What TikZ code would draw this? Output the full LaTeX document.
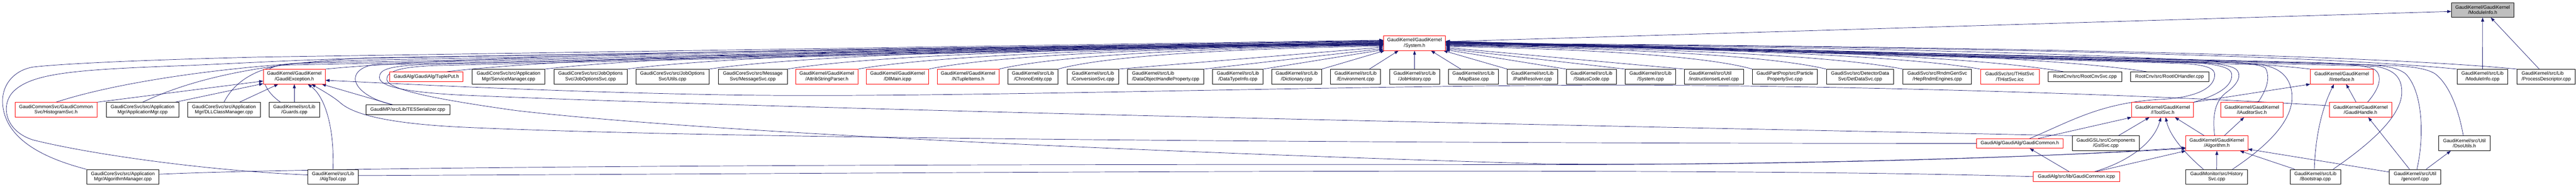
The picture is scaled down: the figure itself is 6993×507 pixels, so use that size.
\documentclass[tikz,border=0pt]{standalone}
\usepackage{fontspec}
\setmainfont{Liberation Sans}
\usetikzlibrary{arrows.meta}
\definecolor{navy}{HTML}{191970}
\definecolor{gfill}{HTML}{BFBFBF}
\pgfdeclarelayer{bg}
\pgfsetlayers{bg,main}
\newcommand\gnode[6]{%
  \pgfmathsetmacro\gcx{(#3+#4)/2}%
  \pgfmathsetmacro\gww{#4-#3}%
  \node[#1, minimum width=\gww pt] (#2) at (\gcx,#5) {#6};}
\tikzset{
  bx/.style={draw=black, fill=white, line width=1.1pt, minimum height=40pt, inner sep=0pt, align=center, font=\fontsize{13}{15}\selectfont},
  rbx/.style={bx, draw=red},
  sbx/.style={bx, minimum height=26pt},
  rsbx/.style={rbx, minimum height=26pt},
  lbx/.style={bx, align=left},
  gybx/.style={bx, fill=gfill},
  conn/.style={draw=navy, line width=1pt, -{Triangle[length=11pt,width=8pt]}},
  conn0/.style={draw=navy, line width=1pt},
}
\begin{document}
\begin{tikzpicture}[x=1pt,y=-1pt]
\begin{pgfonlayer}{bg}
\fill[white] (0,0) rectangle (6993,507);
\end{pgfonlayer}
\useasboundingbox (0,0) rectangle (6993,507);

% row 0 and 1
\gnode{gybx}{mih}{6655}{6824}{27}{GaudiKernel/GaudiKernel\\/ModuleInfo.h}
\gnode{rbx}{sysh}{3756}{3924}{117}{GaudiKernel/GaudiKernel\\/System.h}

% row 2
\gnode{rbx}{gexc}{715}{883}{208}{GaudiKernel/GaudiKernel\\/GaudiException.h}
\gnode{rsbx}{tupleput}{1058}{1257}{208}{GaudiAlg/GaudiAlg/TuplePut.h}
\gnode{bx}{svcmgr}{1282}{1479}{208}{GaudiCoreSvc/src/Application\\Mgr/ServiceManager.cpp}
\gnode{bx}{josvc}{1504}{1702}{208}{GaudiCoreSvc/src/JobOptions\\Svc/JobOptionsSvc.cpp}
\gnode{bx}{joutils}{1726}{1925}{208}{GaudiCoreSvc/src/JobOptions\\Svc/Utils.cpp}
\gnode{bx}{msgsvc}{1950}{2137}{208}{GaudiCoreSvc/src/Message\\Svc/MessageSvc.cpp}
\gnode{rbx}{attrib}{2160}{2329}{208}{GaudiKernel/GaudiKernel\\/AttribStringParser.h}
\gnode{rbx}{dllmain}{2352}{2521}{208}{GaudiKernel/GaudiKernel\\/DllMain.icpp}
\gnode{rbx}{ntuple}{2544}{2712}{208}{GaudiKernel/GaudiKernel\\/NTupleItems.h}
\gnode{bx}{chrono}{2736}{2872}{208}{GaudiKernel/src/Lib\\/ChronoEntity.cpp}
\gnode{bx}{convsvc}{2897}{3037}{208}{GaudiKernel/src/Lib\\/ConversionSvc.cpp}
\gnode{lbx}{dohp}{3061}{3268}{208}{GaudiKernel/src/Lib\\/DataObjectHandleProperty.cpp}
\gnode{bx}{dtinfo}{3292}{3429}{208}{GaudiKernel/src/Lib\\/DataTypeInfo.cpp}
\gnode{bx}{dict}{3452}{3588}{208}{GaudiKernel/src/Lib\\/Dictionary.cpp}
\gnode{bx}{env}{3612}{3748}{208}{GaudiKernel/src/Lib\\/Environment.cpp}
\gnode{bx}{jobhist}{3772}{3908}{208}{GaudiKernel/src/Lib\\/JobHistory.cpp}
\gnode{bx}{mapbase}{3932}{4068}{208}{GaudiKernel/src/Lib\\/MapBase.cpp}
\gnode{bx}{pathres}{4092}{4228}{208}{GaudiKernel/src/Lib\\/PathResolver.cpp}
\gnode{bx}{statcode}{4252}{4388}{208}{GaudiKernel/src/Lib\\/StatusCode.cpp}
\gnode{bx}{syscpp}{4412}{4549}{208}{GaudiKernel/src/Lib\\/System.cpp}
\gnode{lbx}{isl}{4572}{4733}{208}{GaudiKernel/src/Util\\/instructionsetLevel.cpp}
\gnode{bx}{partprop}{4757}{4934}{208}{GaudiPartProp/src/Particle\\PropertySvc.cpp}
\gnode{bx}{detdata}{4958}{5141}{208}{GaudiSvc/src/DetectorData\\Svc/DetDataSvc.cpp}
\gnode{bx}{heprndm}{5166}{5352}{208}{GaudiSvc/src/RndmGenSvc\\/HepRndmEngines.cpp}
\gnode{rbx}{thist}{5376}{5536}{208}{GaudiSvc/src/THistSvc\\/THistSvc.icc}
\gnode{sbx}{rootcnv}{5560}{5760}{208}{RootCnv/src/RootCnvSvc.cpp}
\gnode{sbx}{rootio}{5783}{5996}{208}{RootCnv/src/RootIOHandler.cpp}
\gnode{rbx}{iint}{6272}{6442}{208}{GaudiKernel/GaudiKernel\\/IInterface.h}
\gnode{bx}{micpp}{6670}{6808}{208}{GaudiKernel/src/Lib\\/ModuleInfo.cpp}
\gnode{lbx}{procdesc}{6833}{6991}{208}{GaudiKernel/src/Lib\\/ProcessDescriptor.cpp}

% row 3
\gnode{rbx}{histsvc}{41}{263}{298}{GaudiCommonSvc/GaudiCommon\\Svc/HistogramSvc.h}
\gnode{bx}{appmgr}{288}{486}{298}{GaudiCoreSvc/src/Application\\Mgr/ApplicationMgr.cpp}
\gnode{bx}{dllcm}{509}{707}{298}{GaudiCoreSvc/src/Application\\Mgr/DLLClassManager.cpp}
\gnode{bx}{guards}{731}{867}{298}{GaudiKernel/src/Lib\\/Guards.cpp}
\gnode{sbx}{tesser}{993}{1221}{298}{GaudiMP/src/Lib/TESSerializer.cpp}
\gnode{rbx}{itoolsvc}{5787}{5955}{298}{GaudiKernel/GaudiKernel\\/IToolSvc.h}
\gnode{rbx}{iaudsvc}{6029}{6197}{298}{GaudiKernel/GaudiKernel\\/IAuditorSvc.h}
\gnode{rbx}{ghandle}{6323}{6493}{298}{GaudiKernel/GaudiKernel\\/GaudiHandle.h}

% row 4
\gnode{rsbx}{gcommonh}{5366}{5600}{389.5}{GaudiAlg/GaudiAlg/GaudiCommon.h}
\gnode{bx}{gslsvc}{5625}{5808}{389}{GaudiGSL/src/Components\\/GslSvc.cpp}
\gnode{rbx}{algh}{5934}{6102}{389}{GaudiKernel/GaudiKernel\\/Algorithm.h}
\gnode{bx}{dsoutils}{6620}{6760}{389}{GaudiKernel/src/Util\\/DsoUtils.h}

% row 5
\gnode{bx}{algmgr}{235}{432}{480}{GaudiCoreSvc/src/Application\\Mgr/AlgorithmManager.cpp}
\gnode{bx}{algtool}{836}{972}{480}{GaudiKernel/src/Lib\\/AlgTool.cpp}
\gnode{rsbx}{gcicpp}{5520}{5754}{479.5}{GaudiAlg/src/lib/GaudiCommon.icpp}
\gnode{bx}{histsvccpp}{5934}{6101}{480}{GaudiMonitor/src/History\\Svc.cpp}
\gnode{bx}{bootstrap}{6217}{6354}{480}{GaudiKernel/src/Lib\\/Bootstrap.cpp}
\gnode{bx}{genconf}{6486}{6626}{480}{GaudiKernel/src/Util\\/genconf.cpp}

\begin{pgfonlayer}{bg}
% ---- to ModuleInfo.h
\draw[conn] ([shift={(0,-4)}]sysh.east) -- ([shift={(0,4)}]mih.west);
\draw[conn] (micpp.north) -- (mih.south);
\draw[conn] ([shift={(-19,0)}]procdesc.north) -- ([shift={(22,0)}]mih.south);

% ---- row 2 (left) to System.h
\draw[conn] (gexc.north east) .. controls (1400,139) and (2808,124) .. ([shift={(0,1)}]sysh.west);
\draw[conn] ([shift={(56,0)}]tupleput.north) .. controls (1671,142) and (2917,125) .. ([shift={(0,2)}]sysh.west);
\draw[conn] (svcmgr.north east) .. controls (1889,140) and (3004,125) .. ([shift={(0,2)}]sysh.west);
\draw[conn] (josvc.north east) .. controls (2072,140) and (3078,125) .. ([shift={(0,3)}]sysh.west);
\draw[conn] (joutils.north east) .. controls (2255,140) and (3152,125) .. ([shift={(0,3)}]sysh.west);
\draw[conn] (msgsvc.north east) .. controls (2428,141) and (3222,126) .. ([shift={(0,4)}]sysh.west);
\draw[conn] (attrib.north east) .. controls (2586,142) and (3285,127) .. ([shift={(0,5)}]sysh.west);
\draw[conn] (dllmain.north east) .. controls (2743,142) and (3348,127) .. ([shift={(0,5)}]sysh.west);
\draw[conn] (ntuple.north east) .. controls (2900,143) and (3411,128) .. ([shift={(0,6)}]sysh.west);
\draw[conn] (chrono.north east) .. controls (3031,144) and (3464,130) .. ([shift={(0,8)}]sysh.west);
\draw[conn] (convsvc.north east) -- ([shift={(0,11)}]sysh.west);
\draw[conn] (dohp.north east) -- ([shift={(0,15)}]sysh.west);
\draw[conn] (dtinfo.north east) -- ([shift={(0,18)}]sysh.west);
\draw[conn] (dict.north east) -- ([shift={(3,0)}]sysh.south west);
\draw[conn] ([shift={(-31,0)}]env.north east) -- ([shift={(41,0)}]sysh.south west);
\draw[conn] (jobhist.north) -- (sysh.south);
\draw[conn] ([shift={(34,0)}]mapbase.north west) -- ([shift={(-40,0)}]sysh.south east);
\draw[conn] (pathres.north west) -- ([shift={(-6,0)}]sysh.south east);

% ---- row 2 (right) to System.h
\draw[conn] (statcode.north west) -- ([shift={(0,18)}]sysh.east);
\draw[conn] (syscpp.north west) -- ([shift={(0,15)}]sysh.east);
\draw[conn] (isl.north west) -- ([shift={(0,12)}]sysh.east);
\draw[conn] (partprop.north west) .. controls (4607,145) and (4199,131) .. ([shift={(0,9)}]sysh.east);
\draw[conn] (detdata.north west) .. controls (4772,143) and (4265,129) .. ([shift={(0,7)}]sysh.east);
\draw[conn] (heprndm.north west) .. controls (4942,143) and (4334,128) .. ([shift={(0,6)}]sysh.east);
\draw[conn] (thist.north west) .. controls (5115,142) and (4403,127) .. ([shift={(0,5)}]sysh.east);
\draw[conn] ([shift={(42,0)}]rootcnv.north west) .. controls (5300,142) and (4478,126) .. ([shift={(0,4)}]sysh.east);
\draw[conn] ([shift={(45,0)}]rootio.north west) .. controls (5485,142) and (4552,125) .. ([shift={(0,3)}]sysh.east);
\draw[conn] (iint.north west) .. controls (5849,140) and (4699,125) .. ([shift={(0,2)}]sysh.east);
\draw[conn] (micpp.north west) .. controls (6176,139) and (4830,124) .. ([shift={(0,1)}]sysh.east);
\draw[conn] (procdesc.north west) .. controls (6309,138) and (4884,123) .. (sysh.east);

% ---- lower left nodes to System.h
\draw[conn] (histsvc.north) .. controls (320,222) and (650,172) .. (1000,163) -- ([shift={(0,-6)}]sysh.west);
\draw[conn] (appmgr.north) .. controls (520,215) and (700,172) .. (1000,157) -- ([shift={(0,-5)}]sysh.west);
\draw[conn] (dllcm.north) .. controls (635,225) and (690,182) .. (800,172) -- ([shift={(0,-4)}]sysh.west);
\draw[conn] ([shift={(31,0)}]guards.north west) .. controls (715,245) and (690,190) .. (760,177) -- ([shift={(0,-3)}]sysh.west);
\draw[conn] ([shift={(-41,0)}]tesser.north) .. controls (960,260) and (930,195) .. (1010,176) -- ([shift={(0,-2)}]sysh.west);
\draw[conn] (algmgr.north west) .. controls (120,430) and (20,380) .. (8,290)
  .. controls (0,230) and (40,190) .. (90,182)
  .. controls (140,176) and (300,165) .. (700,155) -- ([shift={(0,-8)}]sysh.west);
\draw[conn] (gcicpp.west) .. controls (4600,452) and (2600,470) .. (900,477)
  .. controls (600,470) and (250,420) .. (90,380)
  .. controls (10,355) and (0,280) .. (40,245)
  .. controls (90,200) and (200,190) .. (450,180)
  .. controls (600,175) and (800,162) .. (1000,158) -- ([shift={(0,-7)}]sysh.west);
\draw[conn] (gslsvc.north west) .. controls (4500,345) and (2200,300) .. (1250,258)
  .. controls (1100,250) and (1030,235) .. (1030,210)
  .. controls (1030,190) and (1050,180) .. (1150,175) -- ([shift={(0,-1)}]sysh.west);
\draw[conn] (sysh.west) -- (1180,178) .. controls (1080,182) and (1050,195) .. (1050,215)
  .. controls (1050,240) and (1150,265) .. (1400,300)
  .. controls (2000,370) and (3500,425) .. (4200,445)
  .. controls (4700,450) and (5500,430) .. ([shift={(0,14)}]algh.west);
\draw[conn] ([shift={(0,-7)}]algmgr.east) .. controls (1000,448) and (3000,445) .. (4200,447)
  .. controls (4900,447) and (5500,430) .. ([shift={(0,12)}]algh.west);

% ---- to GaudiException.h
\draw[conn] (histsvc.north east) -- ([shift={(0,12)}]gexc.west);
\draw[conn] ([shift={(-11,0)}]appmgr.north east) -- ([shift={(0,19)}]gexc.west);
\draw[conn] ([shift={(42,0)}]dllcm.north) -- ([shift={(41,0)}]gexc.south west);
\draw[conn] (guards.north) -- (gexc.south);
\draw[conn] (algtool.north) .. controls (908,340) and (880,260) .. ([shift={(-48,0)}]gexc.south east);
\draw[conn] ([shift={(-41,0)}]tesser.north) -- ([shift={(-10,0)}]gexc.south east);
\draw[conn] (gcommonh.west) .. controls (4000,389) and (2000,380) .. (1250,345)
  .. controls (1050,335) and (960,310) .. (925,280)
  .. controls (905,262) and (865,240) .. ([shift={(-38,0)}]gexc.south east);
\draw[conn] ([shift={(0,-11)}]ghandle.west) .. controls (5800,255) and (5000,232) .. (4400,231)
  .. controls (3600,232) and (2600,266) .. (2000,258)
  .. controls (1500,250) and (1100,228) .. ([shift={(0,10)}]gexc.east);

% ---- lower right nodes to System.h
\draw[conn] ([shift={(27,0)}]gcommonh.north) .. controls (5620,330) and (5700,280) .. (5860,270)
  .. controls (5960,266) and (6010,240) .. (6012,205)
  .. controls (6014,185) and (5990,176) .. (5920,172) -- ([shift={(0,-1)}]sysh.east);
\draw[conn] (itoolsvc.north east) .. controls (6030,255) and (6062,230) .. (6058,200)
  .. controls (6055,185) and (6030,176) .. (5960,170) -- ([shift={(0,-2)}]sysh.east);
\draw[conn] ([shift={(-6,0)}]algh.north) .. controls (6006,320) and (6010,275) .. (6045,250)
  .. controls (6080,225) and (6085,200) .. (6070,188)
  .. controls (6060,180) and (6030,174) .. (5990,170) -- ([shift={(0,-2)}]sysh.east);
\draw[conn] ([shift={(17,0)}]iaudsvc.north) .. controls (6155,240) and (6163,210) .. (6150,185)
  .. controls (6140,176) and (6100,172) .. (6050,170) -- ([shift={(0,-3)}]sysh.east);
\draw[conn] ([shift={(43,0)}]histsvccpp.north) .. controls (6150,400) and (6225,330) .. (6222,260)
  .. controls (6220,215) and (6195,185) .. (6140,176) -- ([shift={(0,-3)}]sysh.east);
\draw[conn] ([shift={(-21,0)}]bootstrap.north east) .. controls (6420,400) and (6520,320) .. (6520,250)
  .. controls (6520,210) and (6500,190) .. (6450,180) -- ([shift={(0,-4)}]sysh.east);
\draw[conn] ([shift={(19,0)}]ghandle.north) .. controls (6460,240) and (6470,205) .. (6445,188)
  .. controls (6420,178) and (6380,174) .. (6300,170) -- ([shift={(0,-4)}]sysh.east);
\draw[conn] ([shift={(5,0)}]genconf.north) .. controls (6580,380) and (6580,250) .. (6530,200)
  .. controls (6510,185) and (6480,178) .. (6420,175) -- ([shift={(0,-5)}]sysh.east);
\draw[conn] ([shift={(-3,0)}]dsoutils.north) .. controls (6675,300) and (6650,230) .. (6610,200)
  .. controls (6590,188) and (6560,182) .. (6500,178) -- ([shift={(0,-5)}]sysh.east);

% ---- right cluster
\draw[conn] ([shift={(50,0)}]gcommonh.north) -- (itoolsvc.south west);
\draw[conn] (itoolsvc.north east) -- (iint.south west);
\draw[conn] ([shift={(-34,0)}]algh.north) -- ([shift={(33,0)}]itoolsvc.south);
\draw[conn] ([shift={(20,0)}]algh.north) -- ([shift={(-21,0)}]iaudsvc.south);
\draw[conn] ([shift={(34,0)}]gslsvc.north) -- ([shift={(-36,0)}]itoolsvc.south);
\draw[conn] ([shift={(-20,0)}]gcicpp.north) -- ([shift={(27,0)}]gcommonh.south);
\draw[conn] ([shift={(49,0)}]gcicpp.north) .. controls (5790,435) and (5850,380) .. ([shift={(-5,0)}]itoolsvc.south);
\draw[conn] ([shift={(53,0)}]gcicpp.north) -- (algh.south west);
\draw[conn] ([shift={(-36,0)}]histsvccpp.north) .. controls (5935,420) and (5890,370) .. ([shift={(8,0)}]itoolsvc.south);
\draw[conn] (histsvccpp.north) -- (algh.south);
\draw[conn] ([shift={(-56,0)}]bootstrap.north) -- ([shift={(-22,0)}]algh.south east);
\draw[conn] ([shift={(-3,0)}]bootstrap.north) .. controls (6285,380) and (6300,300) .. ([shift={(-21,0)}]iint.south);
\draw[conn] ([shift={(-12,0)}]ghandle.north) -- ([shift={(12,0)}]iint.south);
\draw[conn] ([shift={(-15,0)}]genconf.north) -- ([shift={(21,0)}]ghandle.south);
\draw[conn] ([shift={(30,0)}]genconf.north) -- ([shift={(-37,0)}]dsoutils.south);
\draw[conn] ([shift={(0,-13)}]genconf.west) -- ([shift={(0,16)}]algh.east);
\end{pgfonlayer}
\end{tikzpicture}
\end{document}
